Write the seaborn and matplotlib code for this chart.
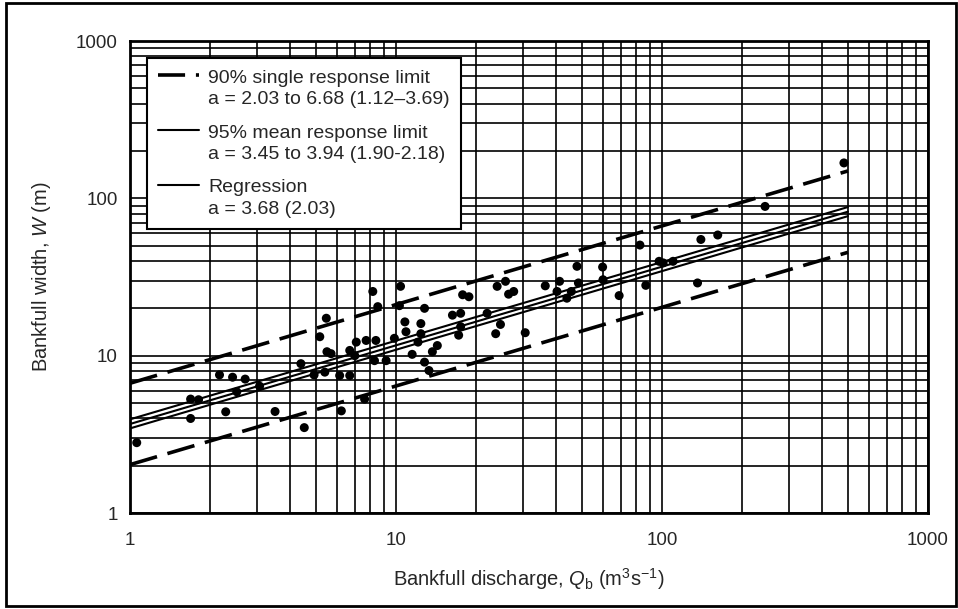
import matplotlib
matplotlib.use("Agg")
import numpy as np
import matplotlib.pyplot as plt
import seaborn as sns
import pandas as pd
from matplotlib.lines import Line2D
from matplotlib.patches import Rectangle
from matplotlib.legend_handler import HandlerLine2D
from matplotlib.ticker import LogLocator, NullFormatter, FixedLocator, FixedFormatter

# Observed bankfull discharge (m3/s) and bankfull width (m)
discharge = [1.06, 1.69, 1.69, 1.81, 2.17, 2.29, 2.43, 2.71, 2.52, 3.07,
             3.51, 4.52, 4.39, 4.92, 5.17, 5.47, 5.5, 5.7, 5.4, 6.14,
             6.7, 6.7, 7.09, 7.0, 7.72, 8.18, 8.54, 8.4, 8.3, 9.18,
             9.86, 10.4, 10.3, 10.8, 10.9, 12.4, 12.4, 12.1, 11.5, 12.8,
             12.8, 13.3, 13.7, 14.3, 16.3, 17.5, 17.5, 17.2, 17.8, 18.8,
             22.0, 23.7, 24.0, 25.8, 26.5, 27.7, 24.7, 30.6, 36.4, 41.2,
             40.3, 43.9, 45.6, 47.9, 48.5, 59.8, 60.0, 69.0, 82.6, 86.9,
             97.5, 101, 110, 140, 162, 136, 244, 483, 7.62, 6.23]
width = [2.80, 3.99, 5.3, 5.25, 7.55, 4.4, 7.3, 7.1, 5.9, 6.4,
         4.42, 3.49, 8.9, 7.55, 13.2, 17.3, 10.6, 10.3, 7.86, 7.48,
         7.48, 10.8, 12.2, 10.0, 12.5, 25.6, 20.5, 12.5, 9.3, 9.3,
         12.9, 27.6, 20.8, 16.4, 14.2, 16.0, 13.8, 12.2, 10.2, 20.0,
         9.1, 8.05, 10.6, 11.6, 18.1, 18.6, 15.3, 13.5, 24.4, 23.7,
         18.6, 13.8, 27.6, 29.7, 24.6, 25.6, 15.8, 14.0, 27.8, 29.7,
         25.6, 23.2, 25.6, 37.0, 29.0, 36.6, 30.4, 24.1, 50.5, 28.0,
         39.8, 38.9, 39.8, 54.8, 58.5, 29.0, 88.9, 168, 5.3, 4.46]

# Line end points (W = a Q^0.5, read at Q = 1 and Q = 500)
line_q = [1, 500]
upper_90 = [6.68, 149.4]
lower_90 = [2.03, 45.4]
upper_95 = [3.94, 88.1]
lower_95 = [3.45, 77.1]
regression = [3.68, 82.3]

legend_labels = [
    "90% single response limit\na = 2.03 to 6.68 (1.12\u20133.69)",
    "95% mean response limit\na = 3.45 to 3.94 (1.90-2.18)",
    "Regression\na = 3.68 (2.03)",
]
tick_values = [1, 10, 100, 1000]
tick_labels = ["1", "10", "100", "1000"]


class FirstLineHandler(HandlerLine2D):
    """Put the legend line level with the first line of a two-line label."""

    def create_artists(self, legend, orig_handle, xdescent, ydescent,
                       width, height, fontsize, trans):
        artists = super().create_artists(legend, orig_handle, xdescent, ydescent,
                                         width, height, fontsize, trans)
        for a in artists:
            a.set_ydata(np.asarray(a.get_ydata()) + 0.68 * fontsize)
        return artists


sns.set_theme(style="white")
plt.rcParams["font.family"] = ["Liberation Sans", "DejaVu Sans"]
plt.rcParams["mathtext.fontset"] = "custom"
plt.rcParams["mathtext.rm"] = "Liberation Sans"
plt.rcParams["mathtext.it"] = "Liberation Sans:italic"

fig = plt.figure(figsize=(9.58, 6.09), dpi=100)
ax = fig.add_axes([0.1357, 0.1576, 0.833, 0.775])
ax.set_xscale("log")
ax.set_yscale("log")
ax.set_xlim(1, 1000)
ax.set_ylim(1, 1000)

# full log grid, major and minor
ax.xaxis.set_minor_locator(LogLocator(base=10, subs=range(2, 10)))
ax.yaxis.set_minor_locator(LogLocator(base=10, subs=range(2, 10)))
ax.xaxis.set_minor_formatter(NullFormatter())
ax.yaxis.set_minor_formatter(NullFormatter())
ax.grid(True, which="both", color="black", linewidth=1.2)
ax.set_axisbelow(True)

dash = (0, (7.8, 3.0))
lines_df = pd.DataFrame({"Q": line_q, "up90": upper_90, "lo90": lower_90,
                         "up95": upper_95, "lo95": lower_95, "reg": regression})
for col in ["up90", "lo90"]:
    sns.lineplot(data=lines_df, x="Q", y=col, ax=ax, color="black",
                 linewidth=2.6, linestyle=dash)
for col in ["up95", "lo95", "reg"]:
    sns.lineplot(data=lines_df, x="Q", y=col, ax=ax, color="black",
                 linewidth=1.5)

pts = pd.DataFrame({"Q": discharge, "W": width})
sns.scatterplot(data=pts, x="Q", y="W", ax=ax, color="black", s=42,
                edgecolor="none", zorder=5)

ax.xaxis.set_major_locator(FixedLocator(tick_values))
ax.xaxis.set_major_formatter(FixedFormatter(tick_labels))
ax.yaxis.set_major_locator(FixedLocator(tick_values))
ax.yaxis.set_major_formatter(FixedFormatter(tick_labels))
ax.tick_params(axis="both", which="both", length=0, labelsize=13.5)
ax.tick_params(axis="x", pad=14)
ax.tick_params(axis="y", pad=9)

ax.set_xlabel(r"Bankfull discharge, $Q_\mathrm{b}$ (m$^3$s$^{-1}$)",
              fontsize=14.5, labelpad=12)
ax.set_ylabel(r"Bankfull width, $W$ (m)", fontsize=14.5, labelpad=16)

for spine in ax.spines.values():
    spine.set_color("black")
    spine.set_linewidth(2)

handles = [
    Line2D([], [], color="black", linewidth=2.6, linestyle=(3.5, (11.0, 3.0))),
    Line2D([], [], color="black", linewidth=1.5),
    Line2D([], [], color="black", linewidth=1.5),
]
leg = ax.legend(handles, legend_labels, loc="upper left",
                bbox_to_anchor=(0.021, 0.964), borderaxespad=0, fontsize=14,
                frameon=True, fancybox=False, framealpha=1, edgecolor="black",
                handlelength=2.1, handletextpad=0.45, labelspacing=0.85,
                borderpad=0.6, handler_map={Line2D: FirstLineHandler()})
for t in leg.get_texts():
    t.set_linespacing(1.33)
leg.get_frame().set_linewidth(1.5)
leg.set_zorder(10)

# outer frame around the whole figure
fig.patches.append(Rectangle((0.0063, 0.005), 0.992, 0.99, transform=fig.transFigure,
                             fill=False, edgecolor="black", linewidth=2))

fig.savefig("out.png", dpi=100, facecolor="white")
